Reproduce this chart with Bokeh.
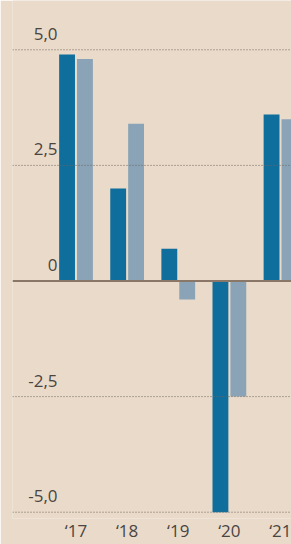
from bokeh.plotting import figure
from bokeh.models import ColumnDataSource, Span, Label, FixedTicker, Range1d
from bokeh.embed import file_html
from bokeh.resources import INLINE

years = ["‘17", "‘18", "‘19", "‘20", "‘21"]
series_a = [4.9, 2.0, 0.7, -5.0, 3.6]
series_b = [4.8, 3.4, -0.4, -2.5, 3.5]
y_ticks = [5.0, 2.5, 0.0, -2.5, -5.0]
y_tick_labels = ["5,0", "2,5", "0", "-2,5", "-5,0"]

BG = "#e9dac9"
DARK = "#0f6e9b"
LIGHT = "#8aa3b7"
TXT = "#4a4542"

idx = list(range(len(years)))
off = 0.175
w = 0.31
src = ColumnDataSource(dict(
    xa=[i - off for i in idx], xb=[i + off for i in idx],
    a=series_a, b=series_b))

p = figure(width=291, height=544, output_backend="svg", toolbar_location=None,
           x_range=Range1d(-1.242, 4.215), y_range=Range1d(-5.136, 6.066),
           min_border_left=12, min_border_right=0, min_border_top=0, min_border_bottom=0,
           background_fill_color=BG, border_fill_color=BG, outline_line_color=None)

p.xgrid.visible = False
p.ygrid.visible = False

for t in y_ticks:
    if t == 0:
        continue
    p.add_layout(Span(location=t, dimension="width", line_color="#6f6660",
                      line_width=1, line_dash="1 2"))

p.vbar(x="xa", top="a", bottom=0, width=w, source=src, color=DARK, line_color=None)
p.vbar(x="xb", top="b", bottom=0, width=w, source=src, color=LIGHT, line_color=None)

p.add_layout(Span(location=0, dimension="width", line_color="#8a7768", line_width=2))

for t, lab in zip(y_ticks, y_tick_labels):
    p.add_layout(Label(x=45, y=t, x_units="screen", y_units="data", text=lab,
                       text_align="right", text_baseline="alphabetic", y_offset=16,
                       text_font="Open Sans", text_font_size="17px", text_color=TXT))

p.yaxis.visible = False
ax = p.xaxis[0]
ax.ticker = FixedTicker(ticks=idx)
ax.major_label_overrides = {i: y for i, y in zip(idx, years)}
ax.axis_line_color = None
ax.major_tick_line_color = None
ax.minor_tick_line_color = None
ax.major_tick_out = 0
ax.major_tick_in = 0
ax.major_label_standoff = 0
ax.major_label_text_font = "Open Sans"
ax.major_label_text_font_size = "17px"
ax.major_label_text_color = TXT

open("out.html", "w").write(file_html(p, INLINE))
